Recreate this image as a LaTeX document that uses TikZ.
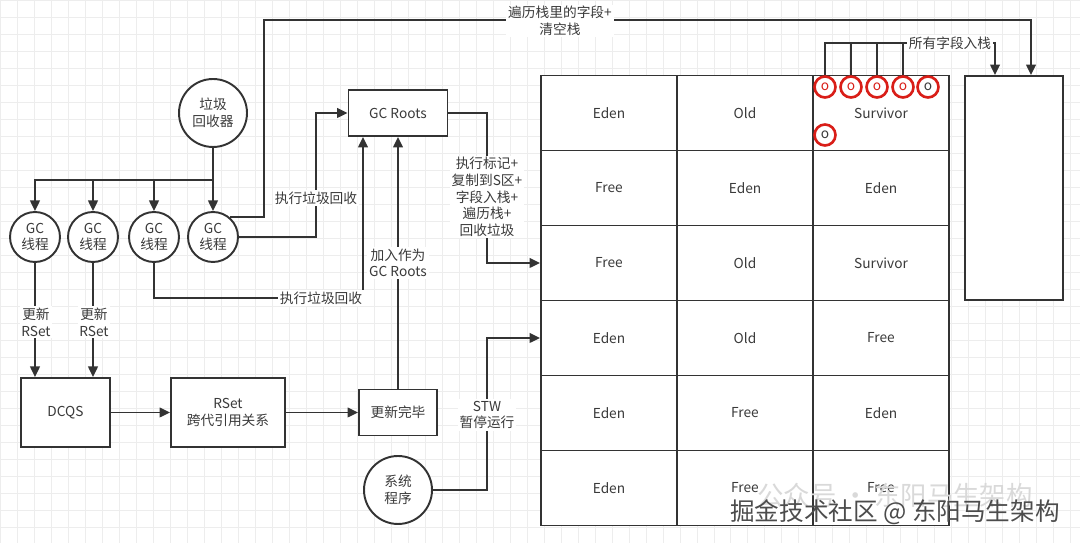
\documentclass[tikz,border=0pt]{standalone}
\usepackage{fontspec}
\setmainfont{Noto Sans CJK SC}
\usepackage{tikz}
\usetikzlibrary{arrows.meta}
\definecolor{linegray}{HTML}{333333}
\definecolor{textgray}{HTML}{3A3A3A}
\definecolor{objred}{HTML}{D91E18}
\definecolor{gridgray}{HTML}{EDEDED}
\pgfdeclarelayer{edgelayer}
\pgfdeclarelayer{nodelayer}
\pgfsetlayers{edgelayer,nodelayer,main}
\tikzstyle{bggrid}=[draw=gridgray, line width=0.4pt]
\tikzstyle{edge}=[draw=linegray, line width=1.1pt]
\tikzstyle{arrowedge}=[draw=linegray, line width=1.1pt, -{Triangle[length=6pt,width=5.5pt]}]
\tikzstyle{vertex}=[circle, fill=white, draw=linegray, line width=1.1pt, minimum size=1cm, inner sep=0pt, align=center, text=textgray]
\tikzstyle{bigvertex}=[vertex, minimum size=1.36cm]
\tikzstyle{box}=[rectangle, fill=white, draw=linegray, line width=1.1pt, inner sep=0pt, align=center, text=textgray]
\tikzstyle{cell}=[box, minimum width=2.72cm, minimum height=1.5cm]
\tikzstyle{obj}=[circle, fill=white, draw=objred, line width=1.5pt, minimum size=0.42cm, inner sep=0pt]
\tikzstyle{edgetext}=[fill=white, inner sep=1pt, align=center, text=textgray]

\begin{document}
\begin{tikzpicture}[x=0.02cm, y=-0.02cm, font=\fontsize{7.8pt}{9.5pt}\selectfont]
	\useasboundingbox (0,0) rectangle (1080,543);
	\begin{pgfonlayer}{nodelayer}
		\node [style=bigvertex] (gcbin) at (213, 113) {垃圾\\回收器};
		\node [style=vertex] (t1) at (35, 237) {GC\\线程};
		\node [style=vertex] (t2) at (93, 237) {GC\\线程};
		\node [style=vertex] (t3) at (154, 237) {GC\\线程};
		\node [style=vertex] (t4) at (213, 237) {GC\\线程};
		\node [style=box, minimum width=1.98cm, minimum height=0.92cm] (roots) at (398, 113) {GC Roots};
		\node [style=box, minimum width=1.78cm, minimum height=1.38cm] (dcqs) at (65.5, 412.5) {DCQS};
		\node [style=box, minimum width=2.28cm, minimum height=1.38cm] (rset) at (228, 412.5) {RSet\\跨代引用关系};
		\node [style=box, minimum width=1.56cm, minimum height=0.92cm] (upd) at (398, 412.5) {更新完毕};
		\node [style=bigvertex] (sys) at (398, 490) {系统\\程序};
		\node [style=box, minimum width=1.96cm, minimum height=4.48cm] (stack) at (1014, 188) {};

		\node [style=cell] (r1c1) at (609, 113) {Eden};
		\node [style=cell] (r1c2) at (745, 113) {Old};
		\node [style=cell] (r1c3) at (881, 113) {Survivor};
		\node [style=cell] (r2c1) at (609, 188) {Free};
		\node [style=cell] (r2c2) at (745, 188) {Eden};
		\node [style=cell] (r2c3) at (881, 188) {Eden};
		\node [style=cell] (r3c1) at (609, 263) {Free};
		\node [style=cell] (r3c2) at (745, 263) {Old};
		\node [style=cell] (r3c3) at (881, 263) {Survivor};
		\node [style=cell] (r4c1) at (609, 338) {Eden};
		\node [style=cell] (r4c2) at (745, 338) {Old};
		\node [style=cell] (r4c3) at (881, 338) {Free};
		\node [style=cell] (r5c1) at (609, 413) {Eden};
		\node [style=cell] (r5c2) at (745, 413) {Free};
		\node [style=cell] (r5c3) at (881, 413) {Eden};
		\node [style=cell] (r6c1) at (609, 488) {Eden};
		\node [style=cell] (r6c2) at (745, 488) {Free};
		\node [style=cell] (r6c3) at (881, 488) {Free};

		\node [style=obj, text=objred] (o1) at (825, 87) {o};
		\node [style=obj, text=objred] (o2) at (851, 87) {o};
		\node [style=obj, text=objred] (o3) at (877, 87) {o};
		\node [style=obj, text=objred] (o4) at (903, 87) {o};
		\node [style=obj, text=textgray] (o5) at (928, 87) {o};
		\node [style=obj, text=textgray] (o6) at (825, 135) {o};

		\node [style=edgetext] (trav) at (560, 21) {遍历栈里的字段+\\清空栈};
		\node [style=edgetext] (run1) at (316, 198) {执行垃圾回收};
		\node [style=edgetext] (mark) at (487, 197) {执行标记+\\复制到S区+\\字段入栈+\\遍历栈+\\回收垃圾};
		\node [style=edgetext] (run2) at (321, 298) {执行垃圾回收};
		\node [style=edgetext] (join) at (398, 263) {加入作为\\GC Roots};
		\node [style=edgetext] (rs1) at (36, 322) {更新\\RSet};
		\node [style=edgetext] (rs2) at (94, 322) {更新\\RSet};
		\node [style=edgetext] (stw) at (487, 415) {STW\\暂停运行};
		\node [style=edgetext] (push) at (950, 43) {所有字段入栈};

		\coordinate (fork) at (213, 180);
		\coordinate (top1) at (264, 20);
		\coordinate (bend1) at (316, 237);
		\coordinate (bend2) at (487, 113);
		\coordinate (bend3) at (363, 298);
		\coordinate (bend4) at (487, 490);
	\end{pgfonlayer}
	\begin{pgfonlayer}{edgelayer}
		\draw [style=bggrid, step=0.34cm] (0,0) grid (1080,543);
		\draw [style=edge] (gcbin) -- (fork);
		\draw [style=arrowedge] (fork) -| (t1);
		\draw [style=arrowedge] (fork) -| (t2);
		\draw [style=arrowedge] (fork) -| (t3);
		\draw [style=arrowedge] (fork) -- (t4);
		\draw [style=arrowedge] (t4.49) -| (top1) -| ([xshift=0.34cm]stack.north);
		\draw [style=arrowedge] (t4) -- (bend1) |- (roots);
		\draw [style=arrowedge] (roots) -- (bend2) |- (r3c1);
		\draw [style=arrowedge] (t3) |- (bend3) -- (bend3 |- roots.south);
		\draw [style=arrowedge] (upd) -- (upd |- roots.south);
		\draw [style=arrowedge] (t1) -- (t1 |- dcqs.north);
		\draw [style=arrowedge] (t2) -- (t2 |- dcqs.north);
		\draw [style=arrowedge] (dcqs) -- (rset);
		\draw [style=arrowedge] (rset) -- (upd);
		\draw [style=arrowedge] (sys) -- (bend4) |- (r4c1);
		\draw [style=edge] (o1) |- (push.west);
		\draw [style=edge] (o2) -- (o2 |- push.west);
		\draw [style=edge] (o3) -- (o3 |- push.west);
		\draw [style=edge] (o4) -- (o4 |- push.west);
		\draw [style=arrowedge] (push.east) -| ([xshift=-0.38cm]stack.north);
	\end{pgfonlayer}
	\node [text=black!15, font=\fontsize{15pt}{18pt}\selectfont] (wm2) at (895, 495) {公众号 · 东阳马生架构};
	\node [text=black!70, font=\fontsize{14pt}{17pt}\selectfont] (wm) at (895, 512) {掘金技术社区 @ 东阳马生架构};
\end{tikzpicture}
\end{document}
